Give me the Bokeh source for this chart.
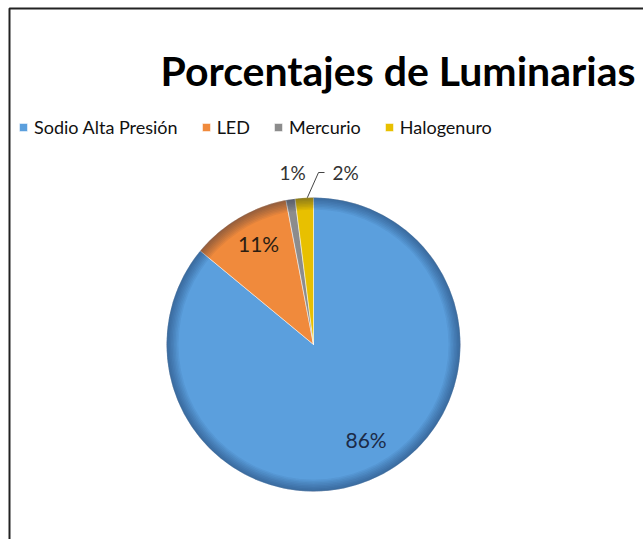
import math
from bokeh.plotting import figure
from bokeh.models import Range1d, Legend, LegendItem, ColumnDataSource
from bokeh.core.properties import value
from bokeh.embed import file_html
from bokeh.resources import INLINE

# ---- data ----
categories = ["Sodio Alta Presión", "LED", "Mercurio", "Halogenuro"]
percent = [86, 11, 1, 2]
labels = ["86%", "11%", "1%", "2%"]
colors = ["#5B9FDD", "#F08A3C", "#8C8C8C", "#E8C000"]
title_text = "Porcentajes de Luminarias"

W, H = 643, 539
FONT = "Lato"

p = figure(width=W, height=H, x_range=Range1d(0, W), y_range=Range1d(0, H),
           output_backend="svg", toolbar_location=None, min_border=0)
p.axis.visible = False
p.grid.visible = False
p.outline_line_color = None
p.background_fill_color = "white"
p.border_fill_color = "white"

def py(y):  # pixel y (from top) -> data y
    return H - y

# frame
p.line([9, 9, W + 5], [py(H + 5), py(8), py(8)], line_color="#222222", line_width=2)

# title
p.text(x=[160], y=[py(70)], text=[title_text], text_font=value(FONT),
       text_font_style="bold", text_font_size="41px", text_color="black",
       text_baseline="alphabetic", text_align="left")

# pie geometry
cx, cy, R = 313, py(344), 147
total = float(sum(percent))
starts, ends, mids = [], [], []
cum = 0.0
for v in percent:
    a0 = math.pi / 2 - 2 * math.pi * cum / total
    cum += v
    a1 = math.pi / 2 - 2 * math.pi * cum / total
    starts.append(a0)
    ends.append(a1)
    mids.append((a0 + a1) / 2)

src = ColumnDataSource(dict(start=starts, end=ends, color=colors, cat=categories))
r = p.wedge(x=cx, y=cy, radius=R, start_angle="start", end_angle="end",
            direction="clock", fill_color="color", line_color="white",
            line_alpha=0.5, line_width=1, source=src)

# bevel / rim shading
n = 8
for i in range(n):
    p.annulus(x=cx, y=cy, inner_radius=R - 12 + i * 1.5, outer_radius=R,
              fill_color="#0A1E3C", fill_alpha=0.06, line_color=None)

# labels
label_colors = ["#1C2B48", "#2B1D12", "#333333", "#333333"]
angle_tweak = [0.05, -0.02, 0.0, 0.0]
for i, (lab, m) in enumerate(zip(labels, mids)):
    if percent[i] >= 5:
        a = m + angle_tweak[i]
        lx = cx + 0.76 * R * math.cos(a)
        ly = cy + 0.76 * R * math.sin(a) + 4
        fs = "21px"
    else:
        side = -1 if i == 2 else 1
        lx = cx + side * (21 if side < 0 else 32)
        ly = cy + 1.17 * R
        fs = "19px"
    p.text(x=[lx], y=[ly], text=[lab], text_font=value(FONT), text_font_size=fs,
           text_color=label_colors[i], text_align="center", text_baseline="middle")

# leader line for the 2% slice
m = mids[3]
ex, ey = cx + R * math.cos(m), cy + R * math.sin(m)
p.line([ex + 3, cx + 5, cx + 11], [ey, cy + 1.17 * R, cy + 1.17 * R],
       line_color="#444444", line_width=1)

# legend
items = [LegendItem(label=c, renderers=[r], index=i) for i, c in enumerate(categories)]
legend = Legend(items=items, orientation="horizontal", location=(18, py(138)),
                glyph_width=10, glyph_height=10, label_standoff=6, spacing=23,
                padding=0, margin=0, border_line_color=None,
                background_fill_alpha=0, label_text_font=FONT,
                label_text_font_size="18px", label_text_color="#111111")
p.add_layout(legend)

open("out.html", "w").write(file_html(p, INLINE))
